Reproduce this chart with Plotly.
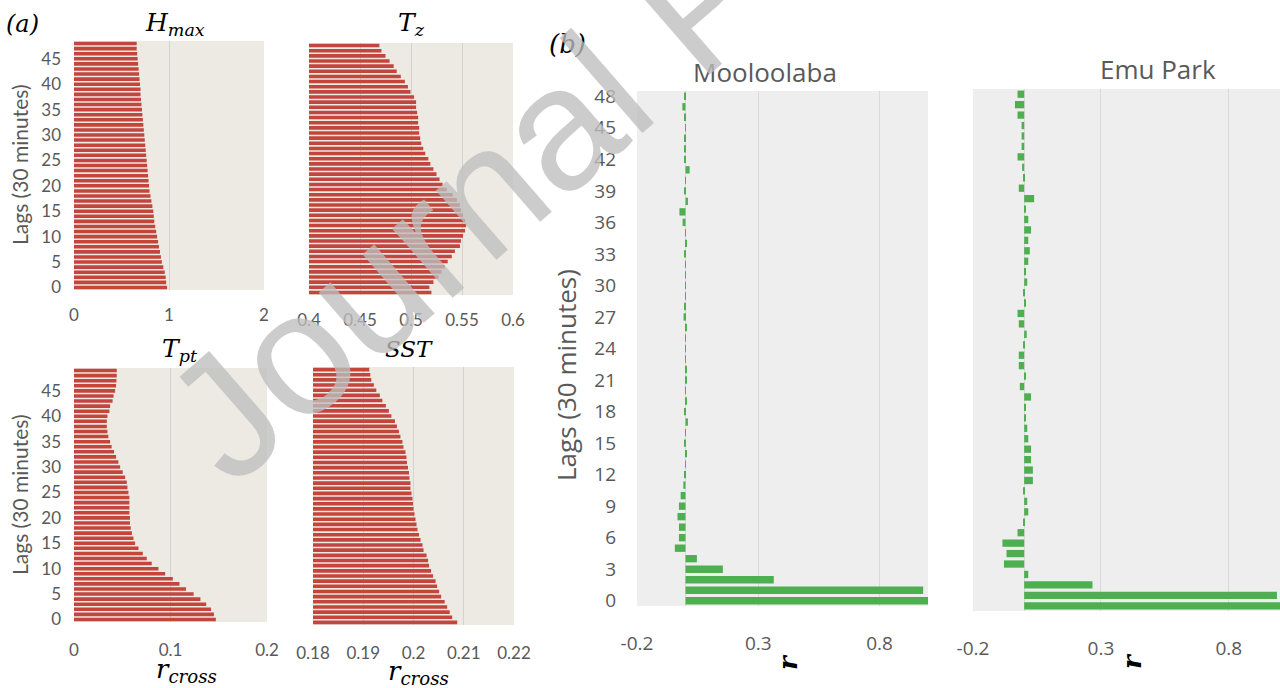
import plotly.graph_objects as go

W, H = 1280, 688

# ---------------- data ----------------
lags_top = list(range(49))          # panel (a) top row, lags 0..48
lags_bottom = list(range(50))       # panel (a) bottom row, lags 0..49
lags_moo = list(range(49))          # Mooloolaba lags 0..48
lags_emu = list(range(50))          # Emu Park lags 0..49

hmax = [0.98, 0.97, 0.965, 0.955, 0.94, 0.925, 0.915, 0.905, 0.895, 0.885,
        0.875, 0.865, 0.855, 0.845, 0.84, 0.835, 0.825, 0.815, 0.805, 0.795,
        0.79, 0.785, 0.78, 0.775, 0.77, 0.765, 0.76, 0.755, 0.75, 0.745,
        0.74, 0.735, 0.73, 0.725, 0.72, 0.715, 0.71, 0.705, 0.70, 0.70,
        0.695, 0.69, 0.685, 0.68, 0.675, 0.67, 0.665, 0.66, 0.66]

tz = [0.520, 0.518, 0.522, 0.527, 0.530, 0.533, 0.536, 0.540, 0.543, 0.548,
      0.549, 0.551, 0.553, 0.554, 0.553, 0.551, 0.549, 0.548, 0.545, 0.541,
      0.535, 0.531, 0.528, 0.525, 0.522, 0.519, 0.517, 0.514, 0.512, 0.510,
      0.509, 0.508, 0.508, 0.507, 0.507, 0.506, 0.505, 0.505, 0.503, 0.4995,
      0.497, 0.494, 0.490, 0.486, 0.483, 0.479, 0.475, 0.471, 0.469]

tpt = [0.147, 0.145, 0.142, 0.137, 0.131, 0.124, 0.116, 0.1093, 0.1024, 0.0945,
       0.0875, 0.0806, 0.0754, 0.0713, 0.0668, 0.0633, 0.0616, 0.060, 0.0588, 0.058,
       0.058, 0.0574, 0.0574, 0.0574, 0.0574, 0.0564, 0.0554, 0.0547, 0.053, 0.0505,
       0.0478, 0.046, 0.0436, 0.0415, 0.039, 0.0374, 0.0356, 0.0346, 0.034, 0.034,
       0.0346, 0.0367, 0.0374, 0.040, 0.041, 0.0426, 0.0436, 0.044, 0.0443, 0.0443]

sst = [0.2087, 0.2077, 0.2072, 0.2067, 0.2062, 0.2055, 0.2051, 0.2047, 0.2044, 0.2039,
       0.2035, 0.2031, 0.2029, 0.2026, 0.2020, 0.2018, 0.2014, 0.2011, 0.2008, 0.2006,
       0.2004, 0.2002, 0.2000, 0.1999, 0.1998, 0.1996, 0.1994, 0.1994, 0.1992, 0.1991,
       0.1989, 0.1987, 0.1986, 0.1984, 0.1980, 0.1978, 0.1974, 0.1971, 0.1967, 0.1963,
       0.1956, 0.1951, 0.1945, 0.1938, 0.1933, 0.1926, 0.1921, 0.1916, 0.1914, 0.1912]

mooloolaba = [1.0, 0.98, 0.364, 0.154, 0.047, -0.044, -0.027, -0.027, -0.033, -0.027,
              -0.02, -0.009, -0.005, 0.001, 0.005, -0.004, 0.001, 0.01, -0.006, 0.005,
              0.001, 0.005, 0.005, 0.001, 0.001, 0.001, 0.005, -0.008, -0.004, 0.001,
              0.001, 0.001, 0.001, -0.004, 0.006, 0.001, -0.012, -0.025, 0.01, -0.004,
              0.001, 0.017, -0.005, -0.006, -0.004, 0.001, -0.005, -0.013, -0.003]

emu_park = [1.0, 0.988, 0.267, 0.016, -0.079, -0.069, -0.085, -0.026, -0.004, 0.016,
            0.012, -0.004, 0.034, 0.034, 0.027, 0.027, 0.016, 0.012, 0.006, 0.006,
            0.027, -0.017, 0.006, -0.021, -0.021, -0.004, 0.01, -0.021, -0.026, 0.006,
            -0.004, 0.012, 0.005, 0.016, 0.022, 0.016, 0.027, 0.016, 0.005, 0.039,
            -0.021, -0.004, -0.008, -0.026, -0.01, -0.01, -0.01, -0.026, -0.036, -0.026]

ticks_a_y = list(range(0, 46, 5))
ticks_b_y = list(range(0, 49, 3))
hmax_ticks = [0, 1, 2]
hmax_ticktext = ["0", "1", "2"]
tz_ticks = [0.4, 0.45, 0.5, 0.55, 0.6]
tz_ticktext = ["0.4", "0.45", "0.5", "0.55", "0.6"]
tpt_ticks = [0, 0.1, 0.2]
tpt_ticktext = ["0", "0.1", "0.2"]
sst_ticks = [0.18, 0.19, 0.2, 0.21, 0.22]
sst_ticktext = ["0.18", "0.19", "0.2", "0.21", "0.22"]
b_ticks = [-0.2, 0.3, 0.8]
b_ticktext = ["-0.2", "0.3", "0.8"]

# ---------------- styling ----------------
RED = "#C4453C"
GREEN = "#4DAF50"
BEIGE = "#ECEAE3"
LGRAY = "#EEEEEE"
TXT = "#595959"
SANS = "Lato"
SANS_B = "Open Sans"
SERIF = "DejaVu Serif"


def dx(a, b):
    return [a / W, b / W]


def dy(top, bottom):
    return [1 - bottom / H, 1 - top / H]


fig = go.Figure()

panels = [
    (hmax, lags_top, RED, "x", "y"),
    (tz, lags_top, RED, "x2", "y2"),
    (tpt, lags_bottom, RED, "x3", "y3"),
    (sst, lags_bottom, RED, "x4", "y4"),
    (mooloolaba, lags_moo, GREEN, "x5", "y5"),
    (emu_park, lags_emu, GREEN, "x6", "y6"),
]
for vals, lags, col, xa, ya in panels:
    fig.add_trace(go.Bar(x=vals, y=lags, orientation="h", marker=dict(color=col, line_width=0),
                         xaxis=xa, yaxis=ya, showlegend=False, hoverinfo="x+y"))

a_tick = dict(family=SANS, size=17, color=TXT)
b_tick = dict(family=SANS_B, size=19, color=TXT)


def xax(domain, anchor, rng, tv, tt, grid, font, standoff, zl=False):
    return dict(domain=domain, anchor=anchor, range=rng, tickvals=tv, ticktext=tt,
                showgrid=True, gridcolor=grid, gridwidth=1, zeroline=zl, zerolinecolor=grid,
                zerolinewidth=1, showline=False, ticks="", tickfont=font, automargin=False,
                ticklabelstandoff=standoff, fixedrange=True)


def yax(domain, anchor, rng, tv, font, standoff, show):
    return dict(domain=domain, anchor=anchor, range=rng, tickvals=tv, showgrid=False,
                zeroline=False, showline=False, ticks="", tickfont=font, automargin=False,
                showticklabels=show, ticklabelstandoff=standoff, fixedrange=True)


GA = "#D2D2D2"
GB = "#D9D9D9"
boxes = {
    1: (74, 264, 41, 290),
    2: (309, 513, 43, 295),
    3: (74, 267, 368, 622),
    4: (313, 514, 367, 625),
    5: (637, 928, 91, 606),
    6: (973, 1280, 89, 611),
}


def dom(i):
    l, r, t, b = boxes[i]
    return dx(l, r), dy(t, b)


layout = dict(width=W, height=H, margin=dict(l=0, r=0, t=0, b=0, pad=0, autoexpand=False),
              paper_bgcolor="white", plot_bgcolor="rgba(0,0,0,0)", bargap=0.3,
              showlegend=False)

xd, yd = dom(1)
layout["xaxis"] = xax(xd, "y", [0, 2], hmax_ticks, hmax_ticktext, GA, a_tick, 13)
layout["yaxis"] = yax(yd, "x", [-0.5, 48.5], ticks_a_y, a_tick, 12, True)
xd, yd = dom(2)
layout["xaxis2"] = xax(xd, "y2", [0.4, 0.6], tz_ticks, tz_ticktext, GA, a_tick, 13)
layout["yaxis2"] = yax(yd, "x2", [-0.5, 48.5], ticks_a_y, a_tick, 12, False)
xd, yd = dom(3)
layout["xaxis3"] = xax(xd, "y3", [0, 0.2], tpt_ticks, tpt_ticktext, GA, a_tick, 16)
layout["yaxis3"] = yax(yd, "x3", [-0.5, 49.5], ticks_a_y, a_tick, 12, True)
xd, yd = dom(4)
layout["xaxis4"] = xax(xd, "y4", [0.18, 0.22], sst_ticks, sst_ticktext, GA, a_tick, 16)
layout["yaxis4"] = yax(yd, "x4", [-0.5, 49.5], ticks_a_y, a_tick, 12, False)
xd, yd = dom(5)
layout["xaxis5"] = xax(xd, "y5", [-0.2, 1.0], b_ticks, b_ticktext, GB, b_tick, 24, zl=True)
layout["yaxis5"] = yax(yd, "x5", [-0.5, 48.5], ticks_b_y, b_tick, 20, True)
xd, yd = dom(6)
layout["xaxis6"] = xax(xd, "y6", [-0.2, 1.0], b_ticks, b_ticktext, GB, b_tick, 24, zl=True)
layout["yaxis6"] = yax(yd, "x6", [-0.5, 49.5], ticks_b_y, b_tick, 20, False)

shapes = []
for i, col in [(1, BEIGE), (2, BEIGE), (3, BEIGE), (4, BEIGE), (5, LGRAY), (6, LGRAY)]:
    xs = "x" if i == 1 else f"x{i}"
    ys = "y" if i == 1 else f"y{i}"
    shapes.append(dict(type="rect", xref=f"{xs} domain", yref=f"{ys} domain", x0=0, x1=1, y0=0, y1=1,
                       fillcolor=col, line_width=0, layer="below"))
layout["shapes"] = shapes


def ann(text, x, y, size, family, color, angle=0):
    return dict(text=text, x=x / W, y=1 - y / H, xref="paper", yref="paper", showarrow=False,
                xanchor="center", yanchor="middle", textangle=angle,
                font=dict(size=size, family=family, color=color))


annotations = [
    ann("<i>(a)</i>", 22, 24, 24, SERIF, "black"),
    ann("<i>(b)</i>", 567, 44, 26, SERIF, "black"),
    ann("<i>H</i><sub><i>max</i></sub>", 175, 24, 25, SERIF, "black"),
    ann("<i>T</i><sub><i>z</i></sub>", 411, 24, 25, SERIF, "black"),
    ann("<i>T</i><sub><i>pt</i></sub>", 180, 350, 25, SERIF, "black"),
    ann("<i>SST</i>", 409, 349, 23, SERIF, "black"),
    ann("<i>r</i><sub><i>cross</i></sub>", 186, 670, 26, SERIF, "black"),
    ann("<i>r</i><sub><i>cross</i></sub>", 418, 672, 26, SERIF, "black"),
    ann("Lags (30 minutes)", 19, 165, 21, SANS, TXT, -90),
    ann("Lags (30 minutes)", 20, 495, 21, SANS, TXT, -90),
    ann("Mooloolaba", 765, 72, 26, SANS_B, TXT),
    ann("Emu Park", 1158, 69, 26, SANS_B, TXT),
    ann("Lags (30 minutes)", 566, 375, 26, SANS_B, TXT, -90),
    ann("<b><i>r</i></b>", 788, 662, 26, SERIF, "black", -90),
    ann("<b><i>r</i></b>", 1132, 661, 26, SERIF, "black", -90),
    ann("Journal Pre-proof", 699, 3, 174, "Liberation Sans", "rgba(190,190,190,0.78)", -41),
]
layout["annotations"] = annotations

fig.update_layout(**layout)
fig.write_html("out.html")
